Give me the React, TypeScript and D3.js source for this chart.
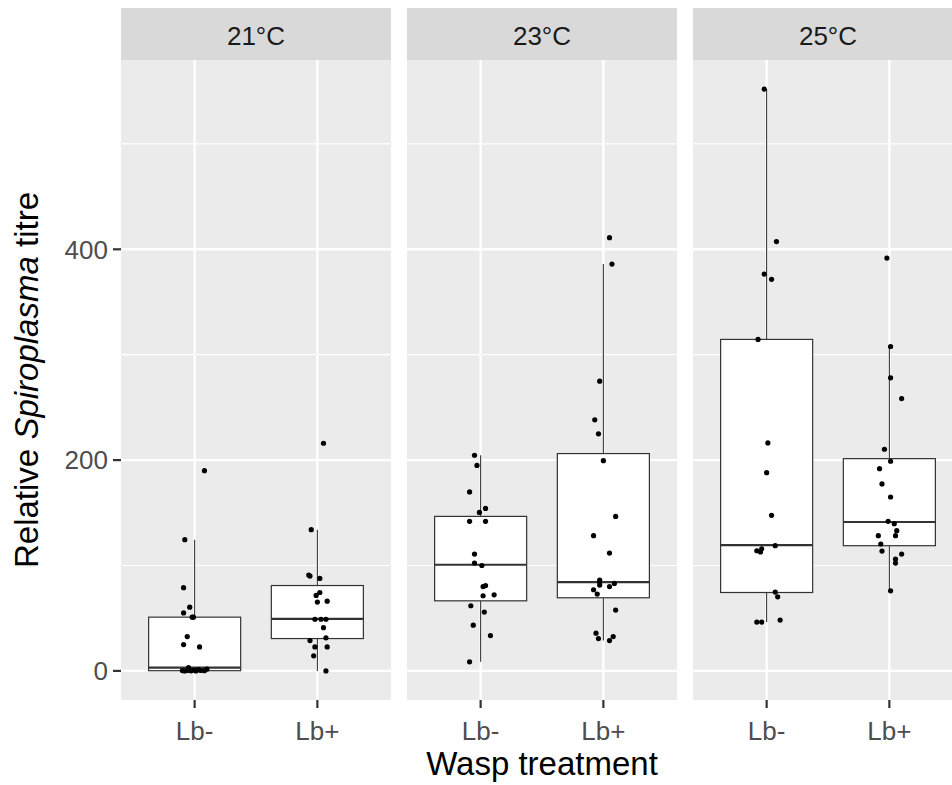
import React from "react";
import * as d3 from "d3";

// Facets and categories
const temperatures = ["21°C", "23°C", "25°C"];
const treatments = ["Lb-", "Lb+"];
const yTicks = [0, 200, 400];
const yMinorTicks = [100, 300, 500];

// Relative Spiroplasma titre per fly, with horizontal jitter (category units)
const titre21Minus = [190, 124.5, 79, 60.5, 55, 51, 51, 32.6, 25, 22.8, 3.2, 0.3, 0, 0.5, 0.1, 0.8, 0, 1.2, 0.4, 0.2, 1.6];
const jitter21Minus = [0.08, -0.08, -0.09, -0.04, -0.09, -0.02, -0.01, -0.06, -0.09, 0.04, -0.05, -0.1, -0.08, -0.06, -0.03, -0.01, 0.01, 0.03, 0.05, 0.08, 0.1];
const titre21Plus = [216, 134, 91, 90, 87.7, 74.4, 71.6, 65.3, 66.2, 49, 49, 49, 41, 28.8, 31.4, 22.8, 22.8, 14.3, 0];
const jitter21Plus = [0.05, -0.05, -0.07, -0.06, 0.02, 0.02, -0.01, 0, 0.08, -0.02, 0.03, 0.07, 0.05, -0.06, 0.07, -0.02, 0.08, -0.03, 0.07];
const titre23Minus = [204.6, 195, 169.8, 154.2, 150.4, 141.9, 141.9, 110.8, 102.3, 100, 81, 80, 71.3, 72.2, 61.8, 55.8, 43.4, 33.5, 8.6];
const jitter23Minus = [-0.05, -0.03, -0.09, 0.04, -0.01, -0.09, 0.04, -0.05, -0.05, 0.01, 0.04, 0.02, 0.02, 0.11, -0.08, 0.03, -0.06, 0.08, -0.09];
const titre23Plus = [411, 386, 274.9, 238.2, 224.9, 199.5, 146.6, 128.3, 111.8, 86.2, 84.3, 81.4, 83, 80, 77, 72.9, 57.7, 35.8, 30.7, 32.6, 28.8];
const jitter23Plus = [0.05, 0.07, -0.03, -0.07, -0.04, 0, 0.1, -0.08, 0.05, -0.03, -0.03, -0.03, 0.09, 0.05, -0.08, -0.05, 0.1, -0.06, -0.04, 0.08, 0.05];
const titre25Minus = [552, 407.3, 376.5, 371.5, 314.5, 216.3, 188.1, 147.6, 118.8, 115.9, 114, 112.8, 74.8, 70.3, 46.3, 46.3, 48.2];
const jitter25Minus = [-0.02, 0.08, -0.02, 0.04, -0.07, 0.01, 0, 0.04, 0.07, -0.04, -0.08, -0.05, 0.07, 0.09, -0.08, -0.04, 0.11];
const titre25Plus = [391.7, 307.8, 278.1, 258.4, 210.3, 198.9, 191.9, 177.4, 165, 141.9, 139.7, 133, 128.3, 128.3, 120.4, 113.7, 110.8, 106.1, 102.3, 76];
const jitter25Plus = [-0.02, 0.01, 0.01, 0.1, -0.04, 0.01, -0.08, -0.06, 0.01, -0.01, 0.04, 0.06, -0.09, 0.05, -0.07, -0.06, 0.1, 0.05, 0.05, 0.01];

// Box summaries: [lower whisker, Q1, median, Q3, upper whisker]
const box21Minus = [0, 0.2, 3.2, 51, 124.5];
const box21Plus = [0, 30.7, 49.4, 81, 134];
const box23Minus = [8.6, 66.5, 100.7, 146.6, 204.6];
const box23Plus = [28.8, 69.4, 84.3, 206.2, 386];
const box25Minus = [46.3, 74.4, 119.4, 314.5, 552];
const box25Plus = [76, 118.8, 141.3, 201.4, 307.8];

const groups = [
  [
    { values: titre21Minus, jitter: jitter21Minus, box: box21Minus },
    { values: titre21Plus, jitter: jitter21Plus, box: box21Plus },
  ],
  [
    { values: titre23Minus, jitter: jitter23Minus, box: box23Minus },
    { values: titre23Plus, jitter: jitter23Plus, box: box23Plus },
  ],
  [
    { values: titre25Minus, jitter: jitter25Minus, box: box25Minus },
    { values: titre25Plus, jitter: jitter25Plus, box: box25Plus },
  ],
];

const W = 952;
const H = 785;
const panelLeft = 121;
const panelWidth = 270;
const panelGap = 16;
const panelTop = 60;
const panelBottom = 700;
const stripTop = 8;
const FONT = "'Liberation Sans', Arial, sans-serif";

export default function App() {
  const allValues = groups.flat().flatMap((g) => g.values);
  const maxV = d3.max(allValues) as number;
  const minV = d3.min(allValues) as number;
  const pad = (maxV - minV) * 0.05;
  const y = d3.scaleLinear().domain([minV - pad, maxV + pad]).range([panelBottom, panelTop]);

  // discrete positions 1..2 with 0.6 expansion either side
  const xUnit = d3.scaleLinear().domain([0.4, 2.6]).range([0, panelWidth]);
  const unitPx = xUnit(1) - xUnit(0);
  const boxHalf = (0.75 / 2) * unitPx;

  return (
    <svg
      width={W}
      height={H}
      style={{ position: "absolute", left: 0, top: 0, background: "#fff" }}
      fontFamily={FONT}
    >
      <rect x={0} y={0} width={W} height={H} fill="#fff" />
      {temperatures.map((temp, pi) => {
        const x0 = panelLeft + pi * (panelWidth + panelGap);
        return (
          <g key={temp} transform={`translate(${x0},0)`}>
            <rect x={0} y={panelTop} width={panelWidth} height={panelBottom - panelTop} fill="#EBEBEB" />
            {yMinorTicks.map((t) => (
              <line key={"mn" + t} x1={0} x2={panelWidth} y1={y(t)} y2={y(t)} stroke="#fff" strokeWidth={1.2} />
            ))}
            {yTicks.map((t) => (
              <line key={"mj" + t} x1={0} x2={panelWidth} y1={y(t)} y2={y(t)} stroke="#fff" strokeWidth={2.4} />
            ))}
            {treatments.map((tr, ti) => (
              <line key={"vx" + tr} x1={xUnit(ti + 1)} x2={xUnit(ti + 1)} y1={panelTop} y2={panelBottom} stroke="#fff" strokeWidth={2.4} />
            ))}
            {groups[pi].map((g, ti) => {
              const cx = xUnit(ti + 1);
              const [lo, q1, med, q3, hi] = g.box;
              return (
                <g key={"box" + ti}>
                  <line x1={cx} x2={cx} y1={y(q3)} y2={y(hi)} stroke="#333333" strokeWidth={1.1} />
                  <line x1={cx} x2={cx} y1={y(q1)} y2={y(lo)} stroke="#333333" strokeWidth={1.1} />
                  <rect
                    x={cx - boxHalf}
                    y={y(q3)}
                    width={boxHalf * 2}
                    height={y(q1) - y(q3)}
                    fill="#fff"
                    stroke="#333333"
                    strokeWidth={1.2}
                  />
                  <line x1={cx - boxHalf} x2={cx + boxHalf} y1={y(med)} y2={y(med)} stroke="#333333" strokeWidth={2.2} />
                </g>
              );
            })}
            {groups[pi].map((g, ti) =>
              g.values.map((v, k) => (
                <circle key={`pt${ti}-${k}`} cx={xUnit(ti + 1 + g.jitter[k])} cy={y(v)} r={2.6} fill="#000" />
              ))
            )}
            {/* facet strip */}
            <rect x={0} y={stripTop} width={panelWidth} height={panelTop - stripTop} fill="#D9D9D9" />
            <text x={panelWidth / 2} y={45} textAnchor="middle" fontSize={26} fill="#1A1A1A">
              {temp}
            </text>
            {/* x axis */}
            {treatments.map((tr, ti) => (
              <g key={"xt" + tr}>
                <line x1={xUnit(ti + 1)} x2={xUnit(ti + 1)} y1={panelBottom} y2={panelBottom + 8} stroke="#333333" strokeWidth={2.2} />
                <text x={xUnit(ti + 1)} y={740} textAnchor="middle" fontSize={26} fill="#4D4D4D">
                  {tr}
                </text>
              </g>
            ))}
          </g>
        );
      })}
      {/* y axis */}
      {yTicks.map((t) => (
        <g key={"yt" + t}>
          <line x1={panelLeft - 8} x2={panelLeft} y1={y(t)} y2={y(t)} stroke="#333333" strokeWidth={2.2} />
          <text x={panelLeft - 13} y={y(t)} dy="0.36em" textAnchor="end" fontSize={26} fill="#4D4D4D">
            {t}
          </text>
        </g>
      ))}
      <text
        transform={`translate(38,${(panelTop + panelBottom) / 2}) rotate(-90)`}
        textAnchor="middle"
        fontSize={33}
        fill="#000"
      >
        Relative <tspan fontStyle="italic">Spiroplasma</tspan> titre
      </text>
      <text x={panelLeft + (3 * panelWidth + 2 * panelGap) / 2} y={775} textAnchor="middle" fontSize={33} fill="#000">
        Wasp treatment
      </text>
    </svg>
  );
}
